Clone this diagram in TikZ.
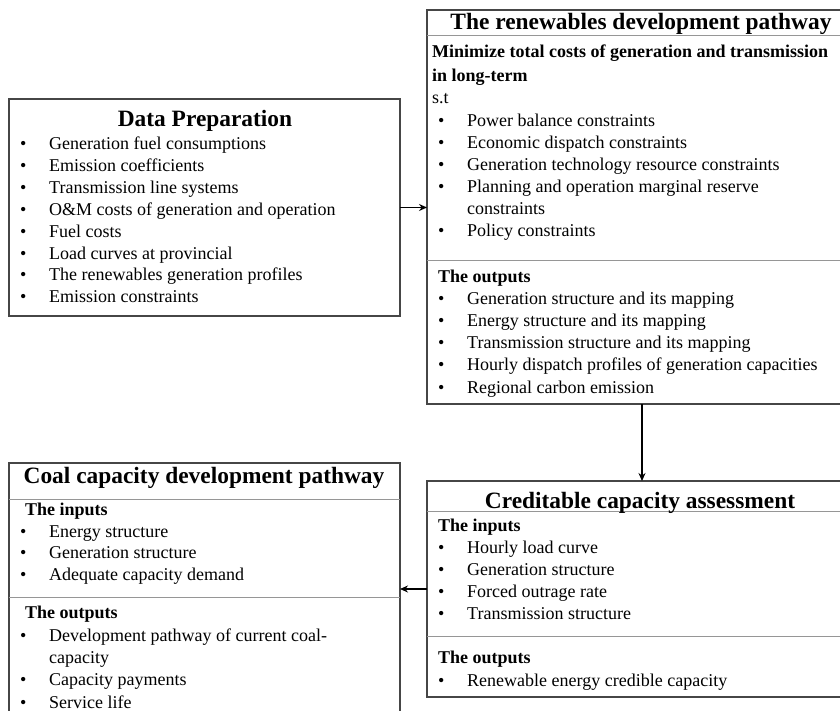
\documentclass[tikz,border=0pt]{standalone}
\usepackage{fontspec}
\setmainfont{Liberation Serif}
\usetikzlibrary{arrows.meta}
\definecolor{boxgray}{RGB}{70,70,70}
\definecolor{sepgray}{RGB}{150,150,150}
\begin{document}
\begin{tikzpicture}[x=1pt,y=-1pt,
  box/.style={draw=boxgray, line width=1.3pt, inner sep=0pt, outer sep=0pt, anchor=north west},
  sep/.style={draw=sepgray, line width=1pt},
  ttl/.style={font=\fontsize{23.4}{28}\selectfont\bfseries, anchor=base, inner sep=0pt},
  sub/.style={font=\fontsize{18}{22}\selectfont\bfseries, anchor=base west, inner sep=0pt},
  plain/.style={font=\fontsize{18}{22}\selectfont, anchor=base west, inner sep=0pt},
  item/.style={font=\fontsize{18}{22}\selectfont, anchor=base west, inner sep=0pt, execute at begin node={\makebox[29pt][l]{\textbullet}}},
  arr/.style={-{Stealth[length=8pt,width=7pt]}, line width=1.7pt, black}]
\useasboundingbox (0,0) rectangle (840,711);
\clip (0,0) rectangle (840,711);
\fill[white] (0,0) rectangle (840,711);

% boxes
\node[box, minimum width=391pt, minimum height=217pt] (dp) at (9,99) {};
\node[box, minimum width=430pt, minimum height=394pt] (rp) at (427,10) {};
\node[box, minimum width=430pt, minimum height=216pt] (cc) at (427,481) {};
\node[box, minimum width=391pt, minimum height=270pt] (coal) at (9,463) {};

% separators
\draw[sep] (rp.west |- 0,36) -- (rp.east |- 0,36);
\draw[sep] (rp.west |- 0,261) -- (rp.east |- 0,261);
\draw[sep] (cc.west |- 0,511) -- (cc.east |- 0,511);
\draw[sep] (cc.west |- 0,636) -- (cc.east |- 0,636);
\draw[sep] (coal.west |- 0,499) -- (coal.east |- 0,499);
\draw[sep] (coal.west |- 0,597) -- (coal.east |- 0,597);

% titles
\node[ttl] (dpT) at (205,127) {Data Preparation};
\node[ttl] (rpT) at (641,30) {The renewables development pathway};
\node[ttl] (coalT) at (204,483) {Coal capacity development pathway};
\node[ttl] (ccT) at (640,508) {Creditable capacity assessment};

% Data preparation
\node[item] (dp1) at (20,150) {Generation fuel consumptions};
\node[item] (dp2) at (20,171.8) {Emission coefficients};
\node[item] (dp3) at (20,193.6) {Transmission line systems};
\node[item] (dp4) at (20,215.4) {O\&M costs of generation and operation};
\node[item] (dp5) at (20,237.2) {Fuel costs};
\node[item] (dp6) at (20,259) {Load curves at provincial};
\node[item] (dp7) at (20,280.8) {The renewables generation profiles};
\node[item] (dp8) at (20,302.6) {Emission constraints};

% renewables pathway
\node[sub] (rpS1) at (432,58) {Minimize total costs of generation and transmission};
\node[sub] (rpS2) at (432,82) {in long-term};
\node[plain] (rpST) at (432,104) {s.t};
\node[item] (rp1) at (438,127) {Power balance constraints};
\node[item] (rp2) at (438,149) {Economic dispatch constraints};
\node[item] (rp3) at (438,171) {Generation technology resource constraints};
\node[item] (rp4) at (438,193) {Planning and operation marginal reserve};
\node[plain] (rp4b) at (467,215) {constraints};
\node[item] (rp5) at (438,237) {Policy constraints};
\node[sub] (rpO) at (438,282) {The outputs};
\node[item] (rpo1) at (438,304) {Generation structure and its mapping};
\node[item] (rpo2) at (438,326.3) {Energy structure and its mapping};
\node[item] (rpo3) at (438,348.6) {Transmission structure and its mapping};
\node[item] (rpo4) at (438,370.9) {Hourly dispatch profiles of generation capacities};
\node[item] (rpo5) at (438,393.2) {Regional carbon emission};

% creditable capacity
\node[sub] (ccI) at (438,531) {The inputs};
\node[item] (cc1) at (438,553) {Hourly load curve};
\node[item] (cc2) at (438,575) {Generation structure};
\node[item] (cc3) at (438,597) {Forced outrage rate};
\node[item] (cc4) at (438,619) {Transmission structure};
\node[sub] (ccO) at (438,663) {The outputs};
\node[item] (cco1) at (438,686) {Renewable energy credible capacity};

% coal
\node[sub] (coalI) at (25,515) {The inputs};
\node[item] (coal1) at (20,537) {Energy structure};
\node[item] (coal2) at (20,558.5) {Generation structure};
\node[item] (coal3) at (20,580) {Adequate capacity demand};
\node[sub] (coalO) at (25,618) {The outputs};
\node[item] (coalo1) at (20,641) {Development pathway of current coal-};
\node[plain] (coalo1b) at (49,663) {capacity};
\node[item] (coalo2) at (20,685.5) {Capacity payments};
\node[item] (coalo3) at (20,708) {Service life};

% connectors
\draw[arr] (dp.east) -- (dp.east -| rp.west);
\draw[arr] (rp.south) -- (cc.north);
\draw[arr] (cc.west) -- (cc.west -| coal.east);
\end{tikzpicture}
\end{document}
